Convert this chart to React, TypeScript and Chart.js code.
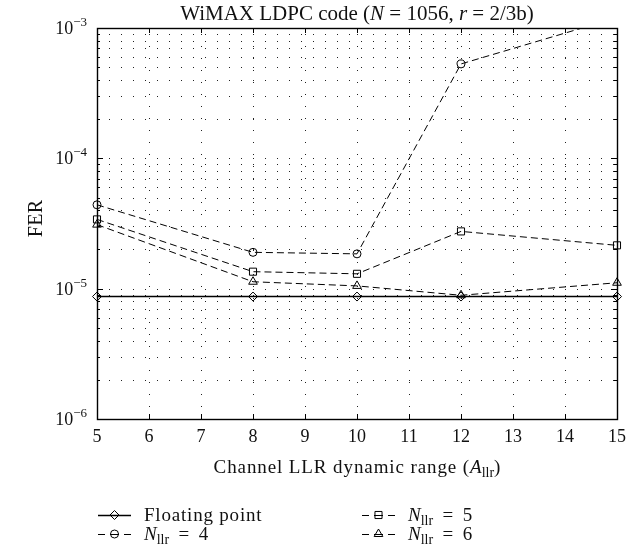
import React, { useEffect, useRef } from 'react';
import { Chart, registerables } from 'chart.js';

Chart.register(...registerables);

// ---- Data ----
const xValues = [5, 8, 10, 12, 15];
const floatingPoint = [8.7e-6, 8.7e-6, 8.7e-6, 8.7e-6, 8.7e-6];
const nllr4 = [4.4e-5, 1.9e-5, 1.85e-5, 5.3e-4, 1.2e-3];
const nllr5 = [3.4e-5, 1.35e-5, 1.3e-5, 2.75e-5, 2.15e-5];
const nllr6 = [3.1e-5, 1.13e-5, 1.05e-5, 8.9e-6, 1.11e-5];

const xTicks = [5, 6, 7, 8, 9, 10, 11, 12, 13, 14, 15];
const yDecades = [1e-6, 1e-5, 1e-4, 1e-3];
const yDecadeExponents = ['\u22126', '\u22125', '\u22124', '\u22123'];
const yMinorMultipliers = [2, 3, 4, 5, 6, 7, 8, 9];

const SERIF = '"Liberation Serif", "DejaVu Serif", serif';

type Part = { t: string; size: number; italic?: boolean; dy?: number; ls?: number };

function fontOf(p: Part) {
  return `${p.italic ? 'italic ' : ''}${p.size}px ${SERIF}`;
}

function applyPart(ctx: CanvasRenderingContext2D, p: Part) {
  ctx.font = fontOf(p);
  try {
    (ctx as any).letterSpacing = `${p.ls || 0}px`;
  } catch (e) {
    /* ignore */
  }
}

function drawParts(ctx: CanvasRenderingContext2D, parts: Part[], x: number, y: number, align: 'left' | 'center' | 'right') {
  ctx.save();
  ctx.fillStyle = '#111';
  ctx.textAlign = 'left';
  ctx.textBaseline = 'alphabetic';
  const widths = parts.map((p) => {
    applyPart(ctx, p);
    return ctx.measureText(p.t).width;
  });
  const total = widths.reduce((a, b) => a + b, 0);
  let cx = align === 'left' ? x : align === 'center' ? x - total / 2 : x - total;
  parts.forEach((p, i) => {
    applyPart(ctx, p);
    ctx.fillText(p.t, cx, y + (p.dy || 0));
    cx += widths[i];
  });
  ctx.restore();
}

function drawMarker(ctx: CanvasRenderingContext2D, style: string, x: number, y: number, r: number) {
  ctx.save();
  ctx.setLineDash([]);
  ctx.strokeStyle = '#000';
  ctx.lineWidth = 1;
  ctx.beginPath();
  if (style === 'circle') {
    ctx.arc(x, y, r, 0, Math.PI * 2);
  } else if (style === 'rect') {
    const s = r * Math.SQRT1_2;
    ctx.rect(x - s, y - s, 2 * s, 2 * s);
  } else if (style === 'triangle') {
    const a = (2 * Math.PI) / 3;
    ctx.moveTo(x, y - r);
    ctx.lineTo(x + Math.sin(a) * r, y - Math.cos(a) * r);
    ctx.lineTo(x + Math.sin(2 * a) * r, y - Math.cos(2 * a) * r);
    ctx.closePath();
  } else if (style === 'rectRot') {
    ctx.moveTo(x, y - r);
    ctx.lineTo(x + r, y);
    ctx.lineTo(x, y + r);
    ctx.lineTo(x - r, y);
    ctx.closePath();
  }
  ctx.stroke();
  ctx.restore();
}

const framePlugin = {
  id: 'matlabFrame',
  beforeDatasetsDraw(chart: any) {
    const ctx: CanvasRenderingContext2D = chart.ctx;
    const { left, right, top, bottom } = chart.chartArea;
    const xs = chart.scales.x;
    const ys = chart.scales.y;
    ctx.save();
    // dotted grid
    ctx.strokeStyle = '#222';
    ctx.lineWidth = 1;
    ctx.setLineDash([1, 11]);
    xTicks.forEach((v) => {
      if (v === xTicks[0] || v === xTicks[xTicks.length - 1]) return;
      const px = Math.round(xs.getPixelForValue(v)) + 0.5;
      ctx.beginPath();
      ctx.moveTo(px, bottom);
      ctx.lineTo(px, top);
      ctx.stroke();
    });
    const yLines: number[] = [];
    yDecades.forEach((d, i) => {
      if (i > 0 && i < yDecades.length - 1) yLines.push(d);
      if (i < yDecades.length - 1) yMinorMultipliers.forEach((m) => yLines.push(m * d));
    });
    yLines.forEach((v) => {
      const py = Math.round(ys.getPixelForValue(v)) + 0.5;
      ctx.beginPath();
      ctx.moveTo(left, py);
      ctx.lineTo(right, py);
      ctx.stroke();
    });
    ctx.setLineDash([]);
    // ticks (inward)
    ctx.strokeStyle = '#000';
    ctx.beginPath();
    xTicks.forEach((v) => {
      const px = Math.round(xs.getPixelForValue(v)) + 0.5;
      ctx.moveTo(px, bottom);
      ctx.lineTo(px, bottom - 5);
      ctx.moveTo(px, top);
      ctx.lineTo(px, top + 5);
    });
    yDecades.forEach((d, i) => {
      const py = Math.round(ys.getPixelForValue(d)) + 0.5;
      ctx.moveTo(left, py);
      ctx.lineTo(left + 6, py);
      ctx.moveTo(right, py);
      ctx.lineTo(right - 6, py);
      if (i < yDecades.length - 1) {
        yMinorMultipliers.forEach((m) => {
          const pm = Math.round(ys.getPixelForValue(m * d)) + 0.5;
          ctx.moveTo(left, pm);
          ctx.lineTo(left + 3, pm);
          ctx.moveTo(right, pm);
          ctx.lineTo(right - 3, pm);
        });
      }
    });
    ctx.stroke();
    // box
    ctx.lineWidth = 1.4;
    ctx.strokeRect(Math.round(left) + 0.5, Math.round(top) + 0.5, Math.round(right - left), Math.round(bottom - top));
    ctx.restore();
  },
  afterDraw(chart: any) {
    const ctx: CanvasRenderingContext2D = chart.ctx;
    const { left, right, top, bottom } = chart.chartArea;
    const xs = chart.scales.x;
    const ys = chart.scales.y;
    const cx = (left + right) / 2;

    // title
    drawParts(ctx, [
      { t: 'WiMAX LDPC code (', size: 21 },
      { t: 'N', size: 21, italic: true },
      { t: ' = 1056, ', size: 21 },
      { t: 'r', size: 21, italic: true },
      { t: ' = 2/3b)', size: 21 },
    ], cx, top - 8, 'center');

    // y tick labels
    yDecades.forEach((d, i) => {
      const py = ys.getPixelForValue(d);
      drawParts(ctx, [
        { t: '10', size: 18 },
        { t: yDecadeExponents[i], size: 13, dy: -8 },
      ], left - 10, py + 6, 'right');
    });

    // x tick labels
    xTicks.forEach((v) => {
      const px = xs.getPixelForValue(v);
      drawParts(ctx, [{ t: String(v), size: 18 }], px, bottom + 23, 'center');
    });

    // y axis title
    ctx.save();
    ctx.translate(42, (top + bottom) / 2 - 5);
    ctx.rotate(-Math.PI / 2);
    drawParts(ctx, [{ t: 'FER', size: 20, ls: 0.3 }], 0, 0, 'center');
    ctx.restore();

    // x axis title
    drawParts(ctx, [
      { t: 'Channel LLR dynamic range (', size: 19, ls: 0.9 },
      { t: 'A', size: 19, italic: true },
      { t: 'llr', size: 14, dy: 4 },
      { t: ')', size: 19 },
    ], cx, bottom + 54, 'center');

    // legend
    const entries = [
      { col: 0, row: 0, style: 'rectRot', r: 4.5, dashed: false, label: null },
      { col: 1, row: 0, style: 'rect', r: 5, dashed: true, label: '5' },
      { col: 0, row: 1, style: 'circle', r: 4, dashed: true, label: '4' },
      { col: 1, row: 1, style: 'triangle', r: 5, dashed: true, label: '6' },
    ];
    const colX = [98, 362];
    const rowY = [bottom + 96, bottom + 115];
    entries.forEach((e) => {
      const x0 = colX[e.col];
      const y0 = rowY[e.row];
      ctx.save();
      ctx.strokeStyle = '#000';
      ctx.lineWidth = e.dashed ? 1 : 1.4;
      ctx.beginPath();
      if (e.dashed) {
        const segs = [[0, 7], [12, 21], [26, 33]];
        segs.forEach(([a, b]) => {
          ctx.moveTo(x0 + a, y0 + 0.5);
          ctx.lineTo(x0 + b, y0 + 0.5);
        });
      } else {
        ctx.moveTo(x0, y0 + 0.5);
        ctx.lineTo(x0 + 33, y0 + 0.5);
      }
      ctx.stroke();
      ctx.restore();
      drawMarker(ctx, e.style, x0 + 16.5, y0, e.r);
      const tx = x0 + 46;
      if (e.label === null) {
        drawParts(ctx, [{ t: 'Floating point', size: 19, ls: 0.8 }], tx, y0 + 6, 'left');
      } else {
        drawParts(ctx, [
          { t: 'N', size: 19, italic: true },
          { t: 'llr', size: 14, dy: 4 },
          { t: '\u2002=\u2002' + e.label, size: 19 },
        ], tx, y0 + 6, 'left');
      }
    });
  },
};

function toPoints(ys: number[]) {
  return xValues.map((x, i) => ({ x, y: ys[i] }));
}

export default function App() {
  const canvasRef = useRef<HTMLCanvasElement | null>(null);

  useEffect(() => {
    const canvas = canvasRef.current;
    if (!canvas) return;
    const common = {
      borderColor: '#000',
      pointBorderColor: '#000',
      pointBackgroundColor: 'rgba(0,0,0,0)',
      pointBorderWidth: 1,
      fill: false,
      tension: 0,
      clip: { left: 10, right: 10, top: 0, bottom: 0 },
    };
    const chart = new Chart(canvas, {
      type: 'line',
      data: {
        datasets: [
          { ...common, label: 'Floating point', data: toPoints(floatingPoint), borderWidth: 1.4, pointStyle: 'rectRot', pointRadius: 4.5 },
          { ...common, label: 'N_llr = 4', data: toPoints(nllr4), borderWidth: 1, borderDash: [7, 4], pointStyle: 'circle', pointRadius: 4 },
          { ...common, label: 'N_llr = 5', data: toPoints(nllr5), borderWidth: 1, borderDash: [7, 4], pointStyle: 'rect', pointRadius: 5 },
          { ...common, label: 'N_llr = 6', data: toPoints(nllr6), borderWidth: 1, borderDash: [7, 4], pointStyle: 'triangle', pointRadius: 5 },
        ] as any,
      },
      options: {
        animation: false,
        responsive: false,
        maintainAspectRatio: false,
        events: [],
        layout: { padding: { left: 97, top: 28, right: 23, bottom: 135 } },
        plugins: {
          legend: { display: false },
          title: { display: false },
          tooltip: { enabled: false },
        },
        scales: {
          x: { type: 'linear', min: 5, max: 15, display: false },
          y: { type: 'logarithmic', min: 1e-6, max: 1e-3, display: false },
        },
      } as any,
      plugins: [framePlugin],
    });
    return () => chart.destroy();
  }, []);

  return (
    <div style={{ position: 'absolute', left: 0, top: 0, width: 640, height: 554, background: '#fff' }}>
      <canvas ref={canvasRef} width={640} height={554} style={{ display: 'block', width: 640, height: 554 }} />
    </div>
  );
}
